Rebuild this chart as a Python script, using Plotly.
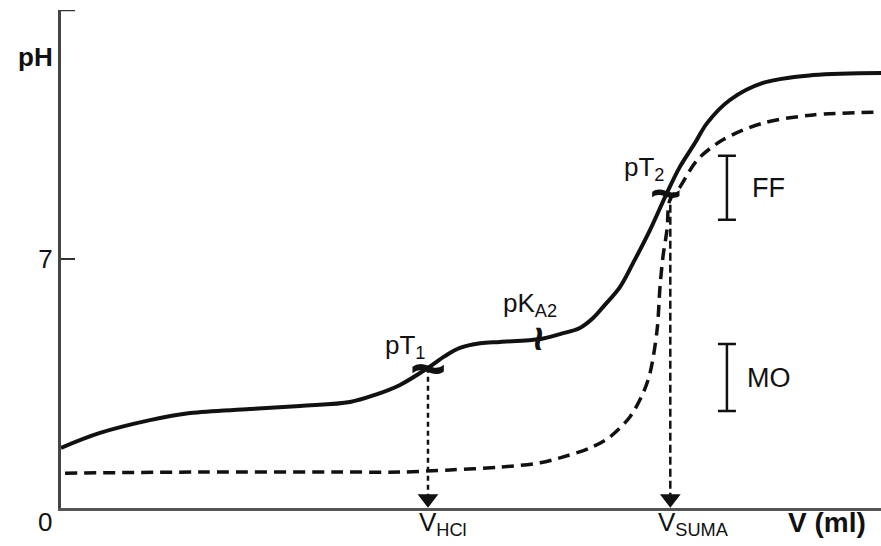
import plotly.graph_objects as go

# ---- data (V in ml, pH) ----
solid_v = [0, 1.06, 2.42, 3.51, 5.14, 6.50, 7.86, 8.54, 9.22, 9.98, 10.44, 10.85, 11.40, 11.94,
           13.03, 13.57, 14.11, 14.47, 14.79, 15.20, 15.56, 16.02, 16.48, 16.83, 17.24, 17.57,
           18.19, 19.09, 20.45, 22.30]
solid_ph = [1.69, 2.11, 2.47, 2.67, 2.78, 2.87, 2.98, 3.18, 3.46, 3.94, 4.27, 4.50, 4.63, 4.67,
            4.75, 4.89, 5.06, 5.34, 5.71, 6.21, 6.89, 7.82, 8.86, 9.59, 10.26, 10.82,
            11.47, 11.95, 12.17, 12.23]

dash_v = [0.11, 3.78, 7.86, 9.22, 10.58, 11.94, 13.03, 13.57, 14.39, 14.93, 15.47, 15.83, 16.02,
          16.21, 16.29, 16.37, 16.48, 16.56, 16.83, 17.30, 18.00, 19.09, 20.45, 22.27]
dash_ph = [0.98, 1.01, 1.01, 1.01, 1.07, 1.15, 1.27, 1.41, 1.69, 2.00, 2.56, 3.23, 3.80,
           5.00, 6.21, 7.06, 7.82, 8.66, 9.02, 9.78, 10.35, 10.82, 11.05, 11.13]

v_hcl = 9.98
v_suma = 16.57
pT1 = 3.94
pT2 = 8.86
pKa2_v = 13.03
pKa2_ph = 4.75

indicator_names = ["FF", "MO"]
indicator_v = [18.11, 18.11]
indicator_low = [8.10, 2.73]
indicator_high = [9.90, 4.61]

y_ticks = [7]
y_ticktext = ["7"]
y_top = 14

FONT = "Liberation Sans, Arial, sans-serif"
BLACK = "#111111"

fig = go.Figure()

fig.add_trace(go.Scatter(x=solid_v, y=solid_ph, mode="lines",
                         line=dict(color=BLACK, width=4, shape="spline", smoothing=1.0),
                         hoverinfo="skip"))
fig.add_trace(go.Scatter(x=dash_v, y=dash_ph, mode="lines",
                         line=dict(color=BLACK, width=3.5, shape="spline", smoothing=0.9,
                                   dash="12px,7px"),
                         hoverinfo="skip"))

# vertical dashed arrows
for v, ph, dash in [(v_hcl, pT1, "5px,4px"), (v_suma, pT2, "8px,4px")]:
    fig.add_trace(go.Scatter(x=[v, v], y=[ph, 0.3], mode="lines",
                             line=dict(color=BLACK, width=2.5, dash=dash),
                             hoverinfo="skip"))
    fig.add_trace(go.Scatter(x=[v], y=[0.26], mode="markers",
                             marker=dict(symbol="triangle-down", size=18, color=BLACK),
                             cliponaxis=False, hoverinfo="skip"))

# indicator ranges
mids = [(lo + hi) / 2 for lo, hi in zip(indicator_low, indicator_high)]
halfs = [(hi - lo) / 2 for lo, hi in zip(indicator_low, indicator_high)]
fig.add_trace(go.Scatter(x=indicator_v, y=mids, mode="markers",
                         marker=dict(size=1, color="rgba(0,0,0,0)"),
                         error_y=dict(type="data", array=halfs, visible=True,
                                      color=BLACK, thickness=2.5, width=9),
                         hoverinfo="skip"))

anns = []
def txt(x, y, t, size=26, bold=False, xanchor="center", yanchor="middle", angle=0,
        xshift=0, yshift=0, ref="data"):
    if bold:
        t = "<b>" + t + "</b>"
    xr, yr = ("x", "y") if ref == "data" else ("paper", "paper")
    anns.append(dict(x=x, y=y, xref=xr, yref=yr, text=t, showarrow=False,
                     font=dict(family=FONT, size=size, color=BLACK),
                     xanchor=xanchor, yanchor=yanchor, textangle=angle,
                     xshift=xshift, yshift=yshift))

# crossing marks
txt(v_hcl, pT1, "<b>~</b>", size=62)
txt(16.45, pT2, "<b>~</b>", size=54)
txt(pKa2_v, pKa2_ph, "<b>~</b>", size=44, angle=90)

txt(9.36, 4.55, "pT<sub>1</sub>")
txt(12.75, 5.72, "pK<sub>A2</sub>")
txt(15.85, 9.55, "pT<sub>2</sub>")
txt(18.74, 9.0, "FF", size=27, xanchor="left")
txt(18.60, 3.65, "MO", size=27, xanchor="left")

# texts outside the plotting area (paper coordinates)
txt(-0.0317, 0.9056, "pH", bold=True, ref="paper")
txt(-0.0195, -0.028, "0", ref="paper")
txt(0.434, -0.032, "V<sub>HCl</sub>", xanchor="left", ref="paper")
txt(0.7256, -0.032, "V<sub>SUMA</sub>", xanchor="left", ref="paper")
txt(0.934, -0.030, "V (ml)", size=28, bold=True, ref="paper")

fig.update_layout(
    width=881, height=546,
    margin=dict(l=61, r=0, t=10, b=38),
    paper_bgcolor="white", plot_bgcolor="white",
    showlegend=False,
    annotations=anns,
    shapes=[dict(type="line", xref="paper", yref="y", x0=0, x1=14 / 820,
                 y0=y_top, y1=y_top, line=dict(color="#333333", width=2.5))],
    xaxis=dict(range=[0, 22.3], showgrid=False, zeroline=False, showline=True,
               linecolor="#555555", linewidth=3, showticklabels=False, ticks=""),
    yaxis=dict(range=[0, y_top], showgrid=False, zeroline=False, showline=True,
               linecolor="#444444", linewidth=3, ticks="inside", ticklen=14,
               tickwidth=2, tickcolor="#333333", tickvals=y_ticks, ticktext=y_ticktext,
               tickfont=dict(family=FONT, size=26, color=BLACK)),
)

fig.write_html("out.html",
               config={"displayModeBar": False},
               post_script="document.body.style.margin='0';document.body.style.overflow='hidden';")
